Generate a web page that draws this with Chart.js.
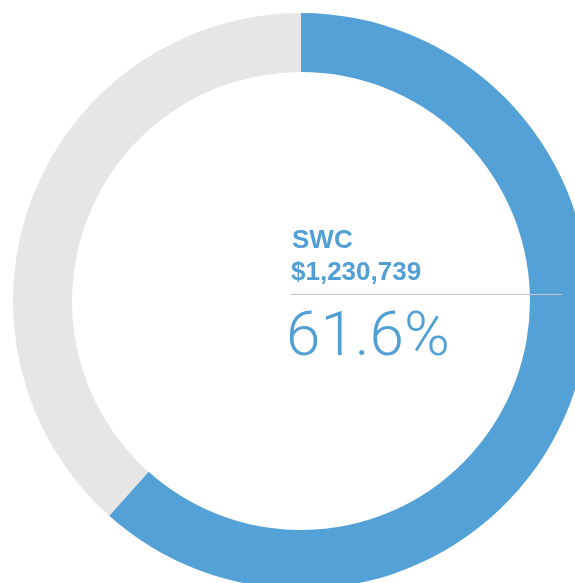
<!DOCTYPE html>
<html>
<head>
<meta charset="utf-8">
<script src="https://cdn.jsdelivr.net/npm/chart.js@4/dist/chart.umd.min.js"></script>
<style>
  html, body { margin: 0; padding: 0; background: #fff; overflow: hidden; width: 575px; height: 583px; }
  #wrap { position: absolute; left: 13px; top: 13px; width: 576px; height: 576px; }
  .lbl { position: absolute; color: #529fd6; font-family: "Liberation Sans", Arial, sans-serif; white-space: nowrap; line-height: 1; }
  #name { left: 292px; top: 226px; font-size: 26px; font-weight: bold; }
  #amount { left: 291px; top: 258px; font-size: 26px; font-weight: bold; }
  #rule { position: absolute; left: 291px; top: 294px; width: 271px; height: 0; border-top: 1.5px solid #c6c6c6; }
  #pct { left: 286px; top: 303px; font-size: 62px; font-family: Roboto, "Liberation Sans", sans-serif; font-weight: 300; }
</style>
</head>
<body>
<div id="wrap"><canvas id="c" width="576" height="576"></canvas></div>
<div class="lbl" id="name"></div>
<div class="lbl" id="amount"></div>
<div id="rule"></div>
<div class="lbl" id="pct"></div>
<script>
const labels = ["SWC", "Other"];
const shares = [61.6, 38.4];
const sliceColors = ["#53a1d6", "#e6e6e6"];
const amount = "$1,230,739";

document.getElementById("name").textContent = labels[0];
document.getElementById("amount").textContent = amount;
document.getElementById("pct").textContent = shares[0].toFixed(1) + "%";

new Chart(document.getElementById("c"), {
  type: "doughnut",
  data: {
    labels: labels,
    datasets: [{ data: shares, backgroundColor: sliceColors, borderWidth: 0, hoverOffset: 0 }]
  },
  options: {
    responsive: false,
    animation: false,
    cutout: "79.5%",
    layout: { padding: 0 },
    plugins: { legend: { display: false }, tooltip: { enabled: false } }
  }
});
</script>
</body>
</html>
